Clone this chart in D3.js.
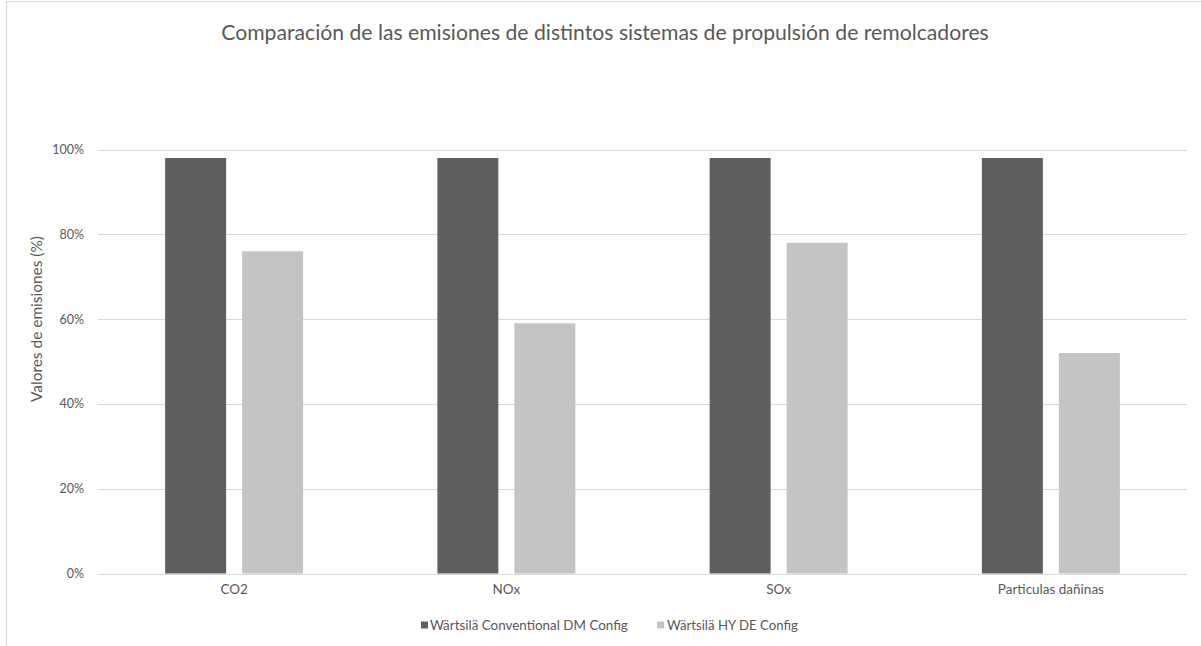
<!DOCTYPE html>
<html>
<head>
<meta charset="utf-8">
<script src="https://cdn.jsdelivr.net/npm/d3@7/dist/d3.min.js"></script>
<style>
  html, body { margin: 0; padding: 0; background: #fff; }
  svg { display: block; font-family: Lato, "Open Sans", sans-serif; }
</style>
</head>
<body>
<svg id="chart" width="1201" height="646"></svg>
<script>
// Emission values (fraction of the conventional configuration)
const categories = ["CO2", "NOx", "SOx", "Particulas dañinas"];
const seriesNames = ["Wärtsilä Conventional DM Config", "Wärtsilä HY DE Config"];
const conventionalValues = [0.98, 0.98, 0.98, 0.98];
const hybridValues = [0.76, 0.59, 0.78, 0.52];
const yTicks = [0, 0.2, 0.4, 0.6, 0.8, 1.0];
const titleText = "Comparación de las emisiones de distintos sistemas de propulsión de remolcadores";
const yTitleText = "Valores de emisiones (%)";

const seriesColors = ["#5f5f5f", "#c4c4c4"];
const textColor = "#595959";
const gridColor = "#d9d9d9";

const rows = categories.map((c, i) => ({
  category: c,
  values: [conventionalValues[i], hybridValues[i]]
}));

const svg = d3.select("#chart");

// Fit a text element's font size so it spans a given width
function fitWidth(sel, target) {
  const node = sel.node();
  const fs = parseFloat(sel.attr("font-size"));
  const w = node.getComputedTextLength();
  if (w > 0) sel.attr("font-size", (fs * target / w).toFixed(2));
}

// Chart frame edges
svg.append("path")
  .attr("d", "M6.5,646V1.5H1201")
  .attr("fill", "none")
  .attr("stroke", gridColor)
  .attr("stroke-width", 1.2);

const plot = { left: 98, right: 1187, top: 149.5, bottom: 573.5 };

const x0 = d3.scaleBand()
  .domain(categories)
  .range([plot.left, plot.right])
  .padding(0);

const groupWidth = 138;
const x1 = d3.scaleBand()
  .domain(seriesNames)
  .range([0, groupWidth])
  .paddingInner(0.208)
  .paddingOuter(0);

const y = d3.scaleLinear()
  .domain([0, 1])
  .range([plot.bottom, plot.top]);

// Horizontal gridlines
svg.append("g")
  .selectAll("line")
  .data(yTicks)
  .join("line")
  .attr("x1", plot.left)
  .attr("x2", plot.right)
  .attr("y1", d => Math.round(y(d)) + 0.5)
  .attr("y2", d => Math.round(y(d)) + 0.5)
  .attr("stroke", gridColor)
  .attr("stroke-width", 1.2);

// Y axis tick labels
const yAxis = d3.axisLeft(y)
  .tickValues(yTicks)
  .tickFormat(d3.format(".0%"))
  .tickSize(0)
  .tickPadding(0);

const yAxisG = svg.append("g")
  .attr("transform", `translate(${plot.left - 14},0)`)
  .call(yAxis);
yAxisG.select(".domain").remove();
yAxisG.selectAll("text")
  .attr("fill", textColor)
  .attr("font-size", 12.5)
  .attr("font-family", "Lato, sans-serif");

// X axis category labels
const xAxis = d3.axisBottom(x0).tickSize(0).tickPadding(0);
const xAxisG = svg.append("g")
  .attr("transform", `translate(0,${plot.bottom + 11})`)
  .call(xAxis);
xAxisG.select(".domain").remove();
xAxisG.selectAll("text")
  .attr("fill", textColor)
  .attr("font-size", 13.5)
  .attr("font-family", "Lato, sans-serif");

// Bars
const groups = svg.append("g")
  .selectAll("g")
  .data(rows)
  .join("g")
  .attr("transform", d => `translate(${x0(d.category) + (x0.bandwidth() - groupWidth) / 2},0)`);

groups.selectAll("rect")
  .data(d => d.values.map((v, i) => ({ name: seriesNames[i], value: v, i })))
  .join("rect")
  .attr("x", d => x1(d.name))
  .attr("width", x1.bandwidth())
  .attr("y", d => y(d.value))
  .attr("height", d => y(0) - y(d.value))
  .attr("fill", d => seriesColors[d.i]);

// Title
const title = svg.append("text")
  .attr("x", 605)
  .attr("y", 40)
  .attr("text-anchor", "middle")
  .attr("fill", textColor)
  .attr("font-size", 19)
  .text(titleText);
fitWidth(title, 768);

// Y axis title
const yTitle = svg.append("text")
  .attr("transform", "translate(42,319) rotate(-90)")
  .attr("text-anchor", "middle")
  .attr("fill", textColor)
  .attr("font-size", 13)
  .text(yTitleText);
fitWidth(yTitle, 166);

// Legend
const legendItems = [
  { name: seriesNames[0], color: seriesColors[0], sx: 421, tx: 430, w: 198 },
  { name: seriesNames[1], color: seriesColors[1], sx: 657, tx: 667, w: 131 }
];
const legend = svg.append("g");
legendItems.forEach(it => {
  legend.append("rect")
    .attr("x", it.sx)
    .attr("y", 621.5)
    .attr("width", 7)
    .attr("height", 7)
    .attr("fill", it.color);
  const t = legend.append("text")
    .attr("x", it.tx)
    .attr("y", 629.5)
    .attr("fill", textColor)
    .attr("font-size", 12.5)
    .text(it.name);
  fitWidth(t, it.w);
});
</script>
</body>
</html>
